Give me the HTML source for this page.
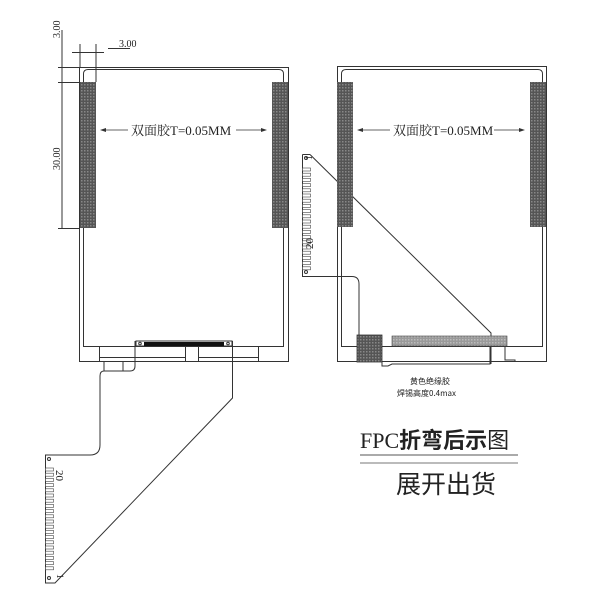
<!DOCTYPE html>
<html><head><meta charset="utf-8"><style>
html,body{margin:0;padding:0;background:#fff;width:600px;height:600px;overflow:hidden}
svg{display:block}
text{font-family:"Liberation Serif","Noto Serif CJK SC",serif;fill:#222}
</style></head><body>
<svg width="600" height="600" viewBox="0 0 600 600" xmlns="http://www.w3.org/2000/svg">
<defs>
<pattern id="hx" width="3" height="3" patternUnits="userSpaceOnUse"><rect width="3" height="3" fill="#555"/><rect width="1.5" height="1.5" fill="#888"/></pattern>
<pattern id="gx" width="3" height="3" patternUnits="userSpaceOnUse"><rect width="3" height="3" fill="#999"/><rect width="1.5" height="1.5" fill="#bbb"/></pattern>
</defs>
<g fill="none" stroke="#333" stroke-width="1">
<!-- LEFT PANEL -->
<rect x="79.5" y="67.5" width="209" height="294"/>
<path d="M83.5 346.5 V74 Q83.5 69.5 88 69.5 H279 Q283.5 69.5 283.5 74 V346.5 Z"/>
<path d="M99.5 346 V362 M185.5 346 V362 M198.5 346 V362 M258.5 346 V362 M99.5 357.5 H185.5 M198.5 357.5 H258.5"/>
<rect x="136" y="341" width="96" height="5" fill="#fff"/>
<rect x="144" y="342" width="80" height="4" fill="#111" stroke="none"/>
<circle cx="140" cy="343.5" r="1.3"/><circle cx="228" cy="343.5" r="1.3"/>
<!-- FPC left -->
<path d="M135 341 V366 Q135 371 130 371 H104 Q100 371 100 376 V445 Q100 455 90 455 H45.5 V583 H55 L232.5 398 V341"/>
<line x1="104" y1="362" x2="104" y2="371"/><line x1="123" y1="362" x2="123" y2="371"/>
<circle cx="49" cy="459" r="1.5"/><circle cx="49" cy="578" r="1.5"/>
<!-- dimension lines -->
<line x1="62" y1="30" x2="62" y2="228"/>
<line x1="58" y1="67.5" x2="79" y2="67.5"/>
<line x1="58" y1="82.5" x2="79" y2="82.5"/>
<line x1="58" y1="228.5" x2="79" y2="228.5"/>
<line x1="80" y1="44" x2="80" y2="67"/>
<line x1="96" y1="44" x2="96" y2="82"/>
<line x1="72" y1="52.5" x2="104" y2="52.5"/>
<line x1="108" y1="48.5" x2="130" y2="48.5"/>
<!-- RIGHT PANEL -->
<rect x="337.5" y="66.5" width="209" height="295"/>
<path d="M341.5 346.5 V74 Q341.5 69.5 346 69.5 H538 Q542.5 69.5 542.5 74 V346.5 Z"/>
<path d="M382 362 V366 H388 L392 364 H490 V346 M505 346 V360 H515 V362"/>
<path d="M310 154.5 L491 333 V364"/>
<path d="M302.5 154.5 H310 M302.5 154.5 V276.5 H352 Q359 276.5 359 284 V335"/>
<circle cx="306" cy="158" r="1.5"/><circle cx="306" cy="272" r="1.5"/>
</g>
<!-- strips -->
<rect x="80" y="82" width="16" height="146" fill="url(#hx)"/>
<rect x="272" y="82" width="16" height="146" fill="url(#hx)"/>
<rect x="337" y="82" width="16" height="145" fill="url(#hx)"/>
<rect x="530" y="82" width="16" height="145" fill="url(#hx)"/>
<rect x="392" y="336" width="115" height="10" fill="url(#gx)" stroke="#444" stroke-width="0.6"/>
<rect x="357" y="335" width="25" height="27" fill="url(#hx)" stroke="#333" stroke-width="0.8"/>
<!-- pins -->
<g fill="#fff" stroke="#444" stroke-width="0.6">
<g id="pins">
<rect x="45.5" y="468" width="8" height="3"/><rect x="45.5" y="473.2" width="8" height="3"/><rect x="45.5" y="478.4" width="8" height="3"/><rect x="45.5" y="483.6" width="8" height="3"/><rect x="45.5" y="488.8" width="8" height="3"/><rect x="45.5" y="494" width="8" height="3"/><rect x="45.5" y="499.2" width="8" height="3"/><rect x="45.5" y="504.4" width="8" height="3"/><rect x="45.5" y="509.6" width="8" height="3"/><rect x="45.5" y="514.8" width="8" height="3"/><rect x="45.5" y="520" width="8" height="3"/><rect x="45.5" y="525.2" width="8" height="3"/><rect x="45.5" y="530.4" width="8" height="3"/><rect x="45.5" y="535.6" width="8" height="3"/><rect x="45.5" y="540.8" width="8" height="3"/><rect x="45.5" y="546" width="8" height="3"/><rect x="45.5" y="551.2" width="8" height="3"/><rect x="45.5" y="556.4" width="8" height="3"/><rect x="45.5" y="561.6" width="8" height="3"/><rect x="45.5" y="566.8" width="8" height="3"/>
</g>
<use href="#pins" transform="translate(257,-300)"/>
</g>
<!-- arrows with label -->
<g stroke="#333" stroke-width="0.8">
<line x1="102" y1="130" x2="128" y2="130"/><line x1="236" y1="130" x2="265" y2="130"/>
<line x1="359" y1="130" x2="390" y2="130"/><line x1="494" y1="130" x2="523" y2="130"/>
</g>
<g fill="#333">
<path d="M100 130 l6 -2 v4z"/><path d="M267 130 l-6 -2 v4z"/>
<path d="M357 130 l6 -2 v4z"/><path d="M525 130 l-6 -2 v4z"/>
</g>
<text x="131" y="135" font-size="13">双面胶T=0.05MM</text>
<text x="393" y="135" font-size="13">双面胶T=0.05MM</text>
<text x="119" y="47" font-size="10">3.00</text>
<text transform="translate(60,38) rotate(-90)" font-size="10">3.00</text>
<text transform="translate(60,170) rotate(-90)" font-size="10">30.00</text>
<text transform="translate(56,470) rotate(90)" font-size="11">20</text>
<text transform="translate(57,574) rotate(90)" font-size="9">1</text>
<text transform="translate(313,249) rotate(-90)" font-size="11">20</text>
<text transform="translate(312,160) rotate(-90)" font-size="9">1</text>
<text x="410" y="384" font-size="8" style='font-family:"Noto Sans CJK SC",sans-serif'>黄色绝缘胶</text>
<text x="397" y="396" font-size="8" style='font-family:"Noto Sans CJK SC",sans-serif'>焊锡高度0.4max</text>
<text x="360" y="448" font-size="22" style='font-family:"Liberation Serif","Noto Sans CJK SC",sans-serif'>FPC<tspan style='font-weight:bold'>折弯后示</tspan>图</text>
<line x1="360" y1="455" x2="518" y2="455" stroke="#777" stroke-width="1.2"/>
<line x1="360" y1="463" x2="518" y2="463" stroke="#777" stroke-width="1"/>
<text x="396" y="493" font-size="25" style='font-family:"Noto Sans CJK SC",sans-serif'>展开出货</text>
</svg>
</body></html>
